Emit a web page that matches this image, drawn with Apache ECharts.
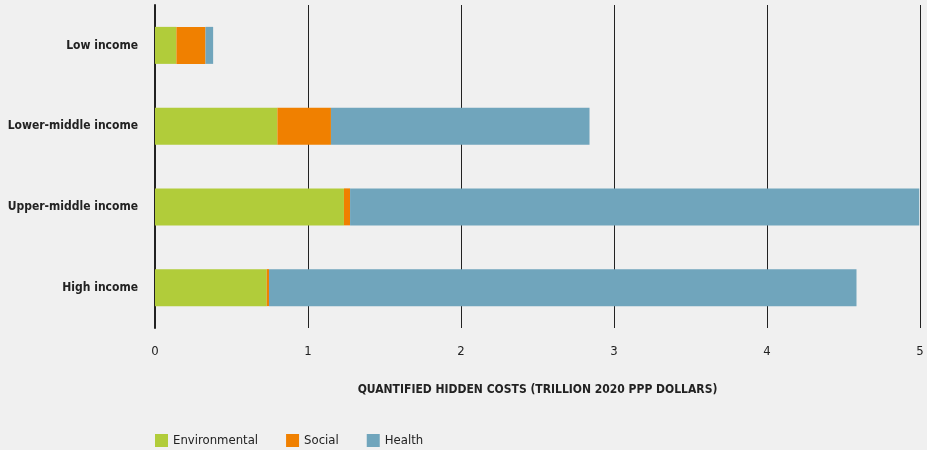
<!DOCTYPE html>
<html>
<head>
<meta charset="utf-8">
<script src="https://cdn.jsdelivr.net/npm/echarts@6/dist/echarts.min.js"></script>
<style>
  html, body { margin: 0; padding: 0; background: #f0f0f0; }
  #chart { width: 927px; height: 450px; }
</style>
</head>
<body>
<div id="chart"></div>
<script>
// income groups, top to bottom
const categories = ['Low income', 'Lower-middle income', 'Upper-middle income', 'High income']
// trillion 2020 PPP dollars
const environmental = [0.14, 0.80, 1.235, 0.73]
const social = [0.19, 0.35, 0.04, 0.015]
const health = [0.05, 1.69, 3.72, 3.84]
const xTicks = [0, 1, 2, 3, 4, 5]

const font = '"Liberation Sans Narrow", "DejaVu Sans Condensed", "Arial Narrow", sans-serif'

const chart = echarts.init(document.getElementById('chart'))

const barSeries = (name, data, color) => ({
  name: name,
  type: 'bar',
  stack: 'total',
  data: data,
  barWidth: 37,
  itemStyle: { color: color },
  emphasis: { disabled: true }
})

chart.setOption({
  backgroundColor: '#f0f0f0',
  textStyle: { fontFamily: font },
  animation: false,
  grid: { left: 155, right: 7, top: 5, bottom: 122, containLabel: false, outerBoundsMode: 'none' },
  legend: {
    left: 150,
    top: 429,
    itemWidth: 13,
    itemHeight: 13,
    itemGap: 28,
    icon: 'rect',
    textStyle: { fontFamily: font, fontSize: 13, color: '#222' },
    data: ['Environmental', 'Social', 'Health']
  },
  xAxis: {
    type: 'value',
    min: xTicks[0],
    max: xTicks[xTicks.length - 1],
    interval: 1,
    name: 'QUANTIFIED HIDDEN COSTS (TRILLION 2020 PPP DOLLARS)',
    nameLocation: 'middle',
    nameGap: 56,
    nameTextStyle: { fontFamily: font, fontSize: 12, fontWeight: 'bold', color: '#222' },
    axisLine: { show: false },
    axisTick: { show: false },
    axisLabel: { fontFamily: font, fontSize: 13, color: '#222', margin: 17 },
    splitLine: { show: true, lineStyle: { color: '#222', width: 1 } }
  },
  yAxis: {
    type: 'category',
    data: categories,
    inverse: true,
    axisLine: { show: true, lineStyle: { color: '#222', width: 2 } },
    axisTick: { show: false },
    axisLabel: { fontFamily: font, fontSize: 12, fontWeight: 'bold', color: '#222', margin: 17 }
  },
  series: [
    barSeries('Environmental', environmental, '#b1cc3a'),
    barSeries('Social', social, '#f08000'),
    barSeries('Health', health, '#70a5bc')
  ]
})

window.addEventListener('resize', () => chart.resize())
</script>
</body>
</html>
